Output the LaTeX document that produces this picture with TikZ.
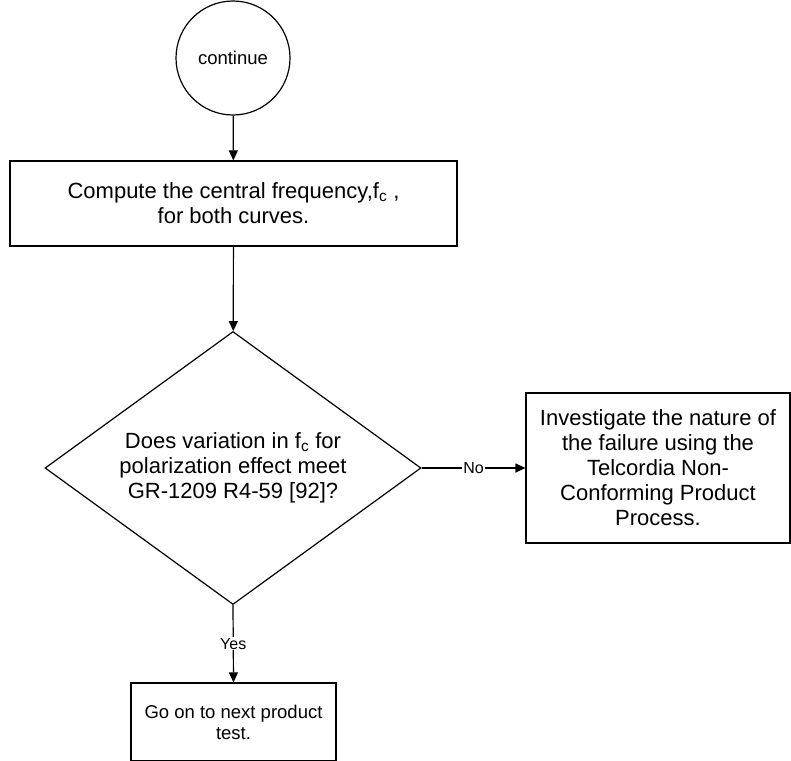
\documentclass[tikz,border=0pt]{standalone}
\usepackage{fontspec}
\setmainfont{Liberation Sans}
\usetikzlibrary{arrows.meta,shapes.geometric}

\begin{document}
\begin{tikzpicture}[
  x=1pt, y=-1pt,
  line width=1.2pt,
  term/.style={draw, circle, minimum size=114pt, inner sep=0pt, font=\fontsize{18.5}{21}\selectfont},
  box/.style={draw, align=center, inner sep=0pt, font=\fontsize{22}{25}\selectfont},
  smallbox/.style={draw, align=center, inner sep=0pt, font=\fontsize{18.5}{21}\selectfont},
  decide/.style={draw, diamond, aspect=1.377, minimum width=376pt, minimum height=273pt, inner sep=0pt, align=center, font=\fontsize{22}{25}\selectfont},
  lab/.style={font=\fontsize{16}{18}\selectfont, fill=white, inner sep=1pt},
  arr/.style={-{Triangle[length=10pt, width=9pt]}}
]
\useasboundingbox (0,0) rectangle (791,760);
\clip (0,0) rectangle (791,760);
\node[term] (cont) at (233,58) {continue};
\node[box, minimum width=447pt, minimum height=85pt] (comp) at (233.5,203.5) {Compute the central frequency,f\textsubscript{c} ,\\for both curves.};
\node[decide] (dec) at (233,468) {Does variation in f\textsubscript{c} for\\polarization effect meet\\GR-1209 R4-59 [92]?};
\node[box, minimum width=264pt, minimum height=150pt] (inv) at (658,468) {Investigate the nature of\\the failure using the\\Telcordia Non-\\Conforming Product\\Process.};
\node[smallbox, minimum width=205pt, minimum height=78pt] (next) at (233.5,722) {Go on to next product\\test.};
\draw[arr] (cont) -- (comp);
\draw[arr] (comp) -- (dec);
\draw[arr] (dec.east) -- node[lab] {No} (inv.west);
\draw[arr] (dec.south) -- node[lab] {Yes} (next.north);
\end{tikzpicture}
\end{document}
